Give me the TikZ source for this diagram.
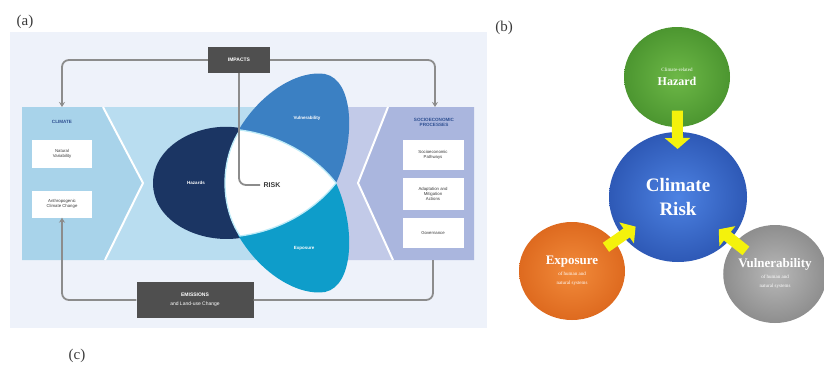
\documentclass[tikz,border=0pt]{standalone}
\usepackage{fontspec}
\setmainfont{Liberation Serif}
\newfontfamily\panelfont{Liberation Sans}
\usetikzlibrary{arrows.meta,shapes.geometric,calc}
\definecolor{bgA}{HTML}{EEF2FA}
\definecolor{climA}{HTML}{A8D3EA}
\definecolor{climB}{HTML}{B9DDF0}
\definecolor{sociA}{HTML}{C2CAE8}
\definecolor{sociB}{HTML}{AAB6DE}
\definecolor{impgray}{HTML}{4F4F4F}
\definecolor{linegray}{HTML}{8C8C8C}
\definecolor{hazblue}{HTML}{1B3563}
\definecolor{vulblue}{HTML}{3B80C3}
\definecolor{expblue}{HTML}{0E9DCA}
\definecolor{rimcyan}{HTML}{BDEBF8}
\definecolor{titleblue}{HTML}{2F5092}
\definecolor{darktxt}{HTML}{3A3A3A}
\definecolor{arrowyellow}{HTML}{F4F20C}
\definecolor{greenIn}{HTML}{6DB847}
\definecolor{greenOut}{HTML}{4C9630}
\definecolor{blueIn}{HTML}{4D82E2}
\definecolor{blueOut}{HTML}{2E59B6}
\definecolor{orangeIn}{HTML}{F28B3B}
\definecolor{orangeOut}{HTML}{DE6A1F}
\definecolor{grayIn}{HTML}{B8B8B8}
\definecolor{grayOut}{HTML}{8E8E8E}
\tikzset{
  plabel/.style={font=\fontsize{15}{16}\selectfont, text=darktxt},
  wbox/.style={fill=white, minimum width=60pt, align=center, inner sep=1pt,
    font=\panelfont\fontsize{4.3}{5}\selectfont, text=darktxt},
  gbox/.style={fill=impgray, text=white, align=center, inner sep=2pt,
    font=\panelfont\fontsize{5}{7}\selectfont\bfseries},
  flow/.style={draw=linegray, line width=1.8pt, rounded corners=7pt},
  tip/.style={-{Stealth[length=5pt,width=6pt]}},
  petaltext/.style={text=white, font=\panelfont\fontsize{4.5}{5}\selectfont\bfseries},
  bubble/.style={ellipse, inner sep=0pt, align=center, text=white},
  yarrow/.style={draw=arrowyellow, line width=11pt,
    -{Triangle[length=11pt,width=25pt]}},
}
\begin{document}
\begin{tikzpicture}[x=1pt,y=-1pt]
\useasboundingbox (0,0) rectangle (824,372);
\fill[white] (0,0) rectangle (824,372);

% ---------- panel (a) ----------
\node[plabel] (la) at (25,22) {(a)};
\fill[bgA] (10,32) rectangle (487,328);

% central band with the two chevrons
\fill[climA] (22,107) -- (103,107) -- (143,183) -- (105,260) -- (22,260) -- cycle;
\fill[climB] (103,107) -- (300,107) -- (300,260) -- (105,260) -- (143,183) -- cycle;
\fill[sociA] (300,107) -- (388,107) -- (358,183) -- (393,260) -- (300,260) -- cycle;
\fill[sociB] (388,107) -- (474,107) -- (474,260) -- (393,260) -- (358,183) -- cycle;
\draw[white, line width=2pt] (103,107) -- (143,183) -- (105,260);
\draw[white, line width=2pt] (388,107) -- (358,183) -- (393,260);

% climate side
\node[text=titleblue, font=\panelfont\fontsize{4.6}{5}\selectfont\bfseries] (climt) at (62,122) {CLIMATE};
\node[wbox, minimum height=28pt] (natvar) at (62,154) {Natural\\Variability};
\node[wbox, minimum height=27pt] (anthro) at (62,204) {Anthropogenic\\Climate Change};

% socioeconomic side
\node[text=titleblue, font=\panelfont\fontsize{4.6}{5}\selectfont\bfseries, align=center] (socit) at (434,122) {SOCIOECONOMIC\\PROCESSES};
\node[wbox, minimum width=61pt, minimum height=30pt] (pathw) at (433,155) {Socioeconomic\\Pathways};
\node[wbox, minimum width=61pt, minimum height=32pt] (adapt) at (433,194) {Adaptation and\\Mitigation\\Actions};
\node[wbox, minimum width=61pt, minimum height=30pt] (gov) at (433,233) {Governance};

% petals of the risk propeller
\fill[hazblue] (240,128) .. controls (200,121) and (153,145) .. (153,183)
  .. controls (153,222) and (200,244) .. (240,238) -- (255,183) -- cycle;
\fill[vulblue] (238,131) .. controls (262,90) and (300,70) .. (325,74)
  .. controls (354,80) and (356,140) .. (336,183) -- (280,183) -- cycle;
\fill[expblue] (238,235) .. controls (262,276) and (300,296) .. (325,292)
  .. controls (354,286) and (356,226) .. (336,183) -- (280,183) -- cycle;
\filldraw[fill=white, draw=rimcyan, line width=1.3pt]
  (240,130) .. controls (285,136) and (318,160) .. (336,183)
  .. controls (318,206) and (285,230) .. (240,236)
  .. controls (220,206) and (220,160) .. (240,130);

\node[petaltext] (haz) at (196,183) {Hazards};
\node[petaltext] (vul) at (307,118) {Vulnerability};
\node[petaltext] (expo) at (304,248) {Exposure};
\node[text=darktxt, font=\panelfont\fontsize{7}{8}\selectfont\bfseries] (risk) at (272,185) {RISK};

% impacts and emissions
\node[gbox, minimum width=62pt, minimum height=26pt] (impacts) at (239,60) {IMPACTS};
\node[gbox, minimum width=117pt, minimum height=36pt, font=\panelfont\fontsize{5}{9}\selectfont] (emis) at (195,300) {\textbf{EMISSIONS}\\and Land-use Change};

\coordinate (climtop) at (62,107);
\coordinate (socitop) at (435,107);
\coordinate (socibot) at (433,260);
\draw[flow, tip] (impacts.west) -| (climtop);
\draw[flow, tip] (impacts.east) -| (socitop);
\draw[flow] (impacts.south) |- (risk.west);
\draw[flow, tip] (emis.west) -| (anthro.south);
\draw[flow] (socibot) |- (emis.east);

\node[plabel] (lc) at (77,356) {(c)};

% ---------- panel (b) ----------
\node[plabel] (lb) at (504,28) {(b)};

\node[bubble, minimum width=106pt, minimum height=100pt,
  inner color=greenIn, outer color=greenOut,
  font=\fontsize{12}{13}\selectfont] (hzd) at (677,77)
  {{\fontsize{5}{6}\selectfont Climate-related}\\[1pt]
   \textbf{Hazard}};
\node[bubble, minimum width=138pt, minimum height=130pt,
  inner color=blueIn, outer color=blueOut,
  font=\fontsize{19}{24}\selectfont\bfseries] (crisk) at (678,197)
  {Climate\\Risk};
\node[bubble, minimum width=106pt, minimum height=98pt,
  inner color=orangeIn, outer color=orangeOut,
  font=\fontsize{5}{9}\selectfont] (expb) at (572,271)
  {{\fontsize{13}{14}\selectfont\bfseries Exposure}\\[2pt]
   of human and\\natural systems};
\node[bubble, minimum width=100pt, minimum height=98pt,
  inner color=grayIn, outer color=grayOut,
  font=\fontsize{5}{9}\selectfont] (vulb) at (775,274)
  {{\fontsize{13}{14}\selectfont\bfseries Vulnerability}\\[2pt]
   of human and\\natural systems};

\draw[yarrow] ($(hzd)!0.28!(crisk)$) -- ($(hzd)!0.6!(crisk)$);
\draw[yarrow] ($(expb)!0.32!(crisk)$) -- ($(expb)!0.6!(crisk)$);
\draw[yarrow] ($(vulb)!0.3!(crisk)$) -- ($(vulb)!0.58!(crisk)$);
\end{tikzpicture}
\end{document}
